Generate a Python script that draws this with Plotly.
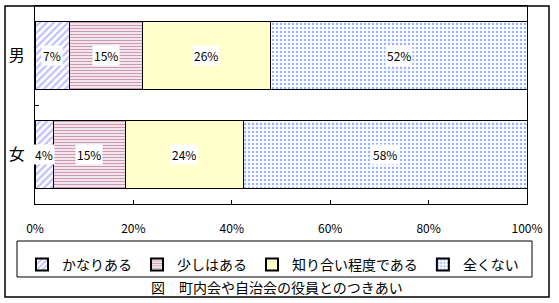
import plotly.graph_objects as go

categories = ["男", "女"]
series_names = ["かなりある", "少しはある", "知り合い程度である", "全くない"]
kanari = [7.1, 3.7]
sukoshi = [14.7, 14.6]
shiriai = [26.0, 24.0]
mattaku = [52.2, 57.7]
x_ticks = [0, 20, 40, 60, 80, 100]
x_tick_labels = ["0%", "20%", "40%", "60%", "80%", "100%"]
caption = "図　町内会や自治会の役員とのつきあい"

series_values = [kanari, sukoshi, shiriai, mattaku]
styles = [
    dict(color="white", pattern=dict(shape="/", fgcolor="#8080FF", bgcolor="white", size=5, solidity=0.45)),
    dict(color="white", pattern=dict(shape="-", fgcolor="#993366", bgcolor="white", size=3, solidity=0.5)),
    dict(color="#FFFFCC"),
    dict(color="white", pattern=dict(shape=".", fgcolor="#3366FF", bgcolor="white", size=4, solidity=0.3)),
]

FONT = "Noto Sans CJK JP"
W, H = 559, 303
L, R, T, B = 35, 32, 6, 99
pw, ph = W - L - R, H - T - B

def px_x(px):
    return (px - L) / pw

def px_y(py):
    return (H - B - py) / ph

fig = go.Figure()
for name, vals, st in zip(series_names, series_values, styles):
    fig.add_trace(go.Bar(
        y=categories, x=vals, name=name, orientation="h",
        marker=dict(line=dict(color="black", width=1), **st),
        hoverinfo="skip",
    ))

annotations = []
for ci, cat in enumerate(categories):
    cum = 0
    for vals in series_values:
        v = vals[ci]
        annotations.append(dict(
            x=cum + v / 2, y=cat, xref="x", yref="y",
            text=f"{round(v)}%", showarrow=False,
            font=dict(family=FONT, size=12, color="black"),
            bgcolor="white", borderpad=1,
        ))
        cum += v

annotations.append(dict(
    x=px_x(277), y=px_y(287), xref="paper", yref="paper",
    text=caption, showarrow=False, xanchor="center", yanchor="middle",
    font=dict(family=FONT, size=14, color="black"),
))

shapes = [
    dict(type="rect", xref="paper", yref="paper",
         x0=px_x(5), x1=px_x(549), y0=px_y(297), y1=px_y(6),
         line=dict(color="black", width=1.5), layer="above"),
    dict(type="rect", xref="paper", yref="paper",
         x0=px_x(17), x1=px_x(532), y0=px_y(277), y1=px_y(241),
         line=dict(color="black", width=1)),
]

fig.update_layout(
    width=W, height=H,
    margin=dict(l=L, r=R, t=T, b=B),
    barmode="stack", bargap=0.32,
    plot_bgcolor="white", paper_bgcolor="white",
    font=dict(family=FONT, size=12, color="black"),
    showlegend=True,
    legend=dict(orientation="h", x=px_x(22), y=px_y(249), xanchor="left", yanchor="top",
                font=dict(family=FONT, size=14), traceorder="normal",
                bgcolor="rgba(0,0,0,0)", borderwidth=0, itemsizing="constant"),
    annotations=annotations,
    shapes=shapes,
)
fig.update_xaxes(range=[0, 100], tickvals=x_ticks, ticktext=x_tick_labels,
                 ticks="inside", ticklen=4, tickcolor="black",
                 showline=True, linecolor="black", linewidth=1, mirror=True,
                 showgrid=False, zeroline=False, ticklabelstandoff=14,
                 tickfont=dict(family=FONT, size=12), fixedrange=True)
fig.update_yaxes(categoryorder="array", categoryarray=categories[::-1],
                 ticks="inside", ticklen=4, tickcolor="black", tickson="boundaries",
                 showline=True, linecolor="black", linewidth=1, mirror=True,
                 showgrid=False, zeroline=False, ticklabelstandoff=6,
                 tickfont=dict(family=FONT, size=16), fixedrange=True)

fig.write_html("out.html")
